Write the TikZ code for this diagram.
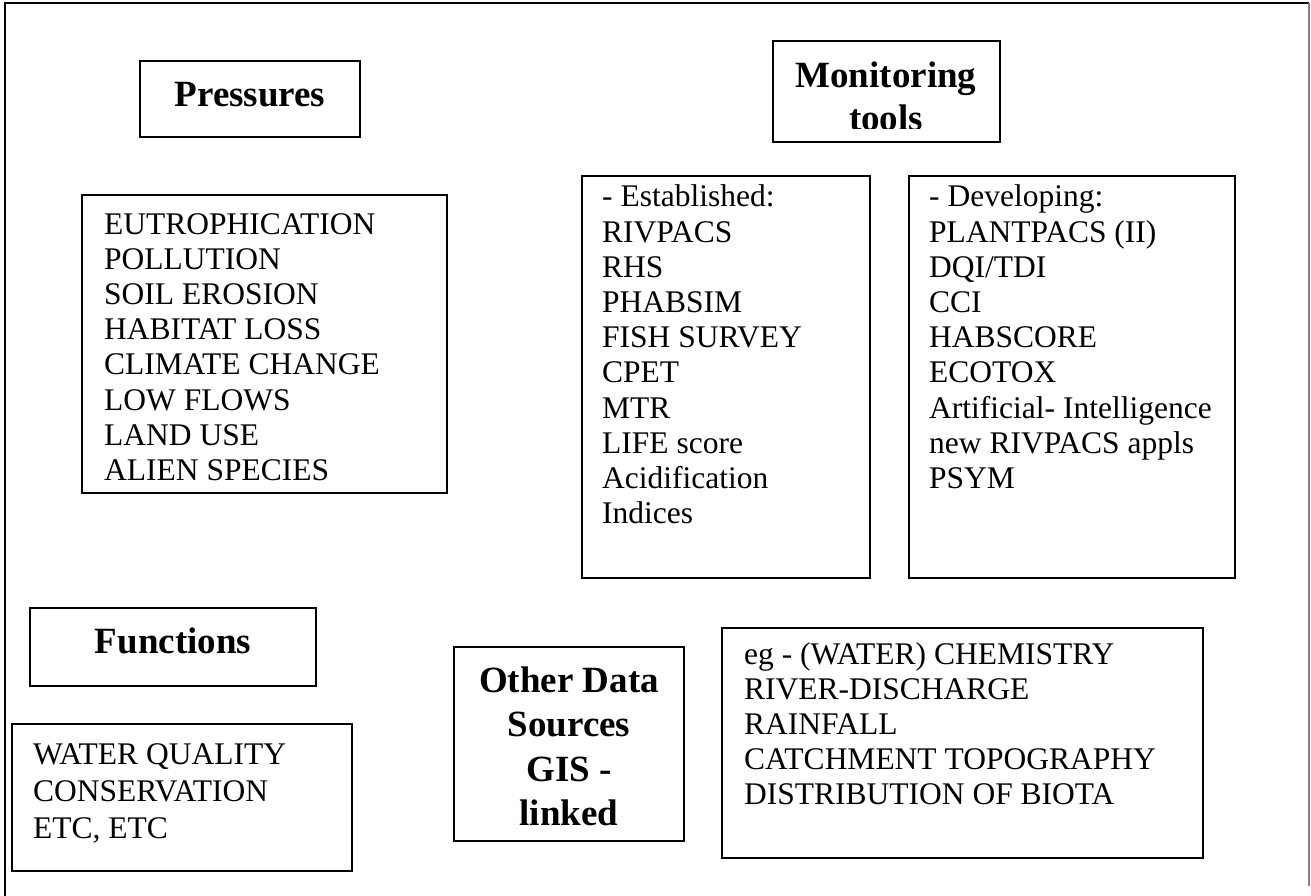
\documentclass[tikz,border=0pt]{standalone}
\usepackage{fontspec}
\setmainfont{Liberation Serif}
\usetikzlibrary{fit}
\tikzset{
  x=1pt, y=-1pt,
  box/.style={draw, line width=1.6pt, inner sep=0pt},
  txt/.style={inner sep=0pt, anchor=base west, font=\fontsize{31.5}{35.2}\selectfont},
  txtloose/.style={txt, font=\fontsize{31.5}{37}\selectfont},
  head/.style={inner sep=0pt, anchor=base, font=\fontsize{37}{43}\selectfont\bfseries},
  headwide/.style={head, font=\fontsize{37}{44.5}\selectfont\bfseries},
}
\newcommand\lst[1]{\begin{tabular}[t]{@{}l@{}}#1\end{tabular}}
\newcommand\hd[1]{\begin{tabular}[t]{@{}c@{}}#1\end{tabular}}
\begin{document}
\begin{tikzpicture}
\useasboundingbox (0,0) rectangle (1311,896);
\fill[white] (0,0) rectangle (1311,896);
% outer frame
\draw[line width=2pt] (5,900) -- (5,3) -- (1309,3);
\draw[line width=1.2pt, gray] (1309,3) -- (1309,886);

% boxes
\node[box, fit={(140,61) (360,137)}] (pres) {};
\node[box, fit={(773,41) (1000,142)}] (mon) {};
\node[box, fit={(82,195) (447,493)}] (plist) {};
\node[box, fit={(582,176) (870,578)}] (est) {};
\node[box, fit={(909,176) (1235,578)}] (dev) {};
\node[box, fit={(30,608) (316,686)}] (func) {};
\node[box, fit={(12,724) (352,871)}] (flist) {};
\node[box, fit={(454,647) (684,841)}] (other) {};
\node[box, fit={(722,628) (1203,858)}] (chem) {};

% headings
\node[head] (prest) at (250,107) {Pressures};
\begin{scope}
  \clip (775,43) rectangle (998,129);
  \node[head] (mont) at (886,88) {\hd{Monitoring\\tools}};
\end{scope}
\node[head] (funct) at (173,653) {Functions};
\node[headwide] (othert) at (569,692) {\hd{Other Data\\Sources\\GIS -\\linked}};

% lists
\node[txt] (plistt) at (104,234) {\lst{EUTROPHICATION\\POLLUTION\\SOIL EROSION\\HABITAT LOSS\\CLIMATE CHANGE\\LOW FLOWS\\LAND USE\\ALIEN SPECIES}};
\node[txt] (estt) at (602,207) {\lst{- Established:\\RIVPACS\\RHS\\PHABSIM\\FISH SURVEY\\CPET\\MTR\\LIFE score\\Acidification\\Indices}};
\node[txt] (devt) at (929,207) {\lst{- Developing:\\PLANTPACS (II)\\DQI/TDI\\CCI\\HABSCORE\\ECOTOX\\Artificial- Intelligence\\new RIVPACS appls\\PSYM}};
\node[txtloose] (flistt) at (33,764) {\lst{WATER QUALITY\\CONSERVATION\\ETC, ETC}};
\node[txt] (chemt) at (744,664) {\lst{eg - (WATER) CHEMISTRY\\RIVER-DISCHARGE\\RAINFALL\\CATCHMENT TOPOGRAPHY\\DISTRIBUTION OF BIOTA}};
\end{tikzpicture}
\end{document}
